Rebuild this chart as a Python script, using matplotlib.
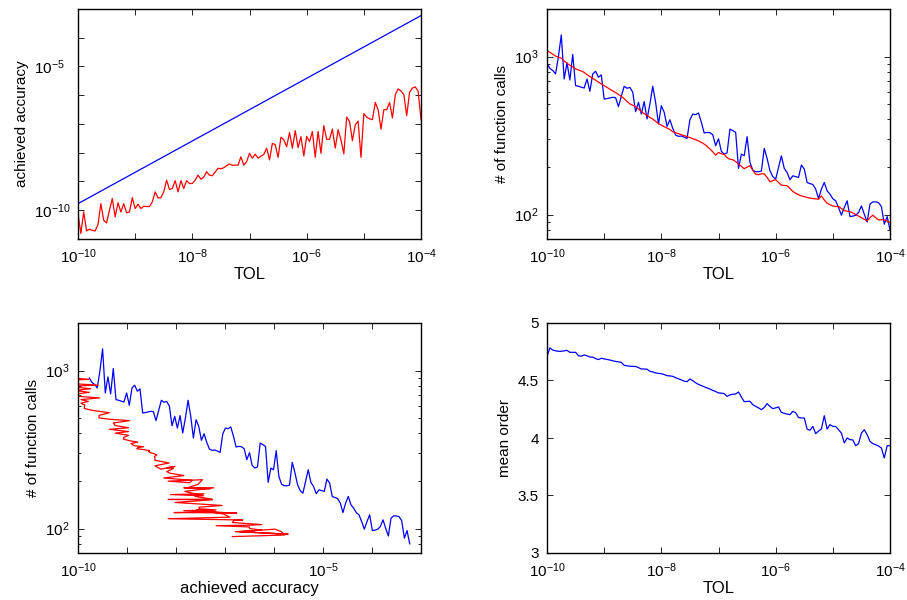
import numpy as np
import matplotlib
matplotlib.use("Agg")
import matplotlib.pyplot as plt
from matplotlib.ticker import FixedLocator, FuncFormatter, LogLocator, NullFormatter, NullLocator

plt.rcParams['font.family'] = ['Liberation Sans', 'DejaVu Sans']
plt.rcParams['mathtext.fontset'] = 'custom'
plt.rcParams['mathtext.rm'] = 'Liberation Sans'
plt.rcParams['mathtext.it'] = 'Liberation Sans:italic'
plt.rcParams['mathtext.default'] = 'rm'

# Tolerance grid (121 log-spaced samples from 1e-10 to 1e-4)
tol = np.logspace(-10, -4, 121)

# log10 of achieved accuracy, blue (straight line in the picture)
acc_blue_log = [
    -9.770, -9.716, -9.661, -9.607, -9.552, -9.498, -9.443, -9.389, -9.334, -9.280,
    -9.225, -9.171, -9.116, -9.062, -9.007, -8.953, -8.898, -8.844, -8.789, -8.735,
    -8.680, -8.626, -8.571, -8.517, -8.462, -8.408, -8.353, -8.299, -8.244, -8.190,
    -8.135, -8.081, -8.026, -7.972, -7.917, -7.863, -7.808, -7.754, -7.699, -7.645,
    -7.590, -7.536, -7.481, -7.427, -7.372, -7.318, -7.263, -7.209, -7.154, -7.100,
    -7.045, -6.991, -6.936, -6.882, -6.827, -6.773, -6.718, -6.664, -6.609, -6.555,
    -6.500, -6.446, -6.391, -6.337, -6.282, -6.228, -6.173, -6.119, -6.064, -6.010,
    -5.955, -5.901, -5.846, -5.792, -5.737, -5.683, -5.628, -5.574, -5.519, -5.465,
    -5.410, -5.356, -5.301, -5.247, -5.192, -5.138, -5.083, -5.029, -4.974, -4.920,
    -4.865, -4.811, -4.756, -4.702, -4.647, -4.593, -4.538, -4.484, -4.429, -4.375,
    -4.320, -4.266, -4.211, -4.157, -4.102, -4.048, -3.993, -3.939, -3.884, -3.830,
    -3.775, -3.721, -3.666, -3.612, -3.557, -3.503, -3.448, -3.394, -3.339, -3.285,
    -3.230]

# log10 of achieved accuracy, red (noisy)
acc_red_log = [
    -10.12, -10.81, -10.06, -10.72, -10.66, -10.70, -10.72, -10.49, -9.77, -10.35,
    -10.44, -10.00, -9.59, -10.23, -9.74, -10.06, -9.77, -10.09, -10.06, -9.56,
    -9.94, -9.79, -9.94, -9.86, -9.87, -9.87, -9.71, -9.36, -9.57, -9.57,
    -9.36, -8.95, -9.28, -9.24, -8.97, -9.36, -8.97, -9.24, -8.97, -9.07,
    -9.07, -8.95, -8.78, -8.92, -8.85, -8.66, -8.78, -8.80, -8.67, -8.54,
    -8.56, -8.52, -8.45, -8.39, -8.44, -8.43, -8.43, -8.14, -8.43, -8.31,
    -8.02, -8.19, -8.05, -8.19, -8.12, -8.06, -7.84, -8.25, -7.67, -7.72,
    -8.16, -7.46, -7.55, -7.79, -7.30, -7.84, -7.23, -7.82, -7.44, -8.11,
    -7.43, -7.61, -7.26, -8.16, -7.26, -8.02, -7.06, -7.53, -7.53, -7.18,
    -7.84, -7.20, -7.55, -8.04, -6.76, -6.91, -7.58, -7.03, -6.90, -8.16,
    -6.64, -6.76, -6.82, -6.85, -6.25, -6.50, -7.18, -6.50, -6.50, -6.25,
    -6.79, -5.98, -5.78, -5.85, -5.98, -6.71, -5.90, -5.75, -5.71, -5.86,
    -6.85]

# log10 of number of function calls, blue (noisy)
calls_blue_log = [
    2.953, 2.925, 2.912, 2.890, 3.000, 3.137, 2.858, 2.960, 2.852, 3.013,
    2.816, 2.812, 2.806, 2.801, 2.858, 2.780, 2.890, 2.907, 2.869, 2.884,
    2.731, 2.734, 2.738, 2.742, 2.740, 2.683, 2.748, 2.812, 2.799, 2.805,
    2.774, 2.651, 2.710, 2.636, 2.715, 2.605, 2.700, 2.812, 2.710, 2.573,
    2.689, 2.647, 2.558, 2.600, 2.545, 2.503, 2.495, 2.497, 2.490, 2.482,
    2.600, 2.636, 2.632, 2.643, 2.584, 2.516, 2.520, 2.518, 2.505, 2.436,
    2.480, 2.400, 2.383, 2.390, 2.541, 2.531, 2.520, 2.292, 2.383, 2.372,
    2.493, 2.330, 2.281, 2.271, 2.271, 2.275, 2.419, 2.355, 2.277, 2.240,
    2.224, 2.298, 2.372, 2.292, 2.266, 2.220, 2.245, 2.240, 2.235, 2.313,
    2.288, 2.203, 2.196, 2.190, 2.161, 2.101, 2.161, 2.203, 2.150, 2.129,
    2.100, 2.087, 2.044, 1.996, 2.044, 2.087, 1.987, 1.990, 1.995, 2.013,
    2.055, 2.002, 1.953, 2.066, 2.080, 2.080, 2.075, 2.050, 1.939, 1.987,
    1.903]

# log10 of number of function calls, red (smooth)
calls_red_log = [
    3.038, 3.027, 3.015, 3.003, 2.996, 2.989, 2.972, 2.958, 2.945, 2.935,
    2.922, 2.915, 2.908, 2.900, 2.885, 2.874, 2.862, 2.850, 2.838, 2.827,
    2.816, 2.805, 2.793, 2.782, 2.772, 2.760, 2.748, 2.733, 2.716, 2.700,
    2.692, 2.683, 2.668, 2.652, 2.638, 2.628, 2.614, 2.604, 2.590, 2.576,
    2.566, 2.556, 2.547, 2.538, 2.524, 2.518, 2.512, 2.505, 2.500, 2.493,
    2.487, 2.480, 2.474, 2.466, 2.456, 2.446, 2.432, 2.415, 2.397, 2.376,
    2.393, 2.385, 2.380, 2.360, 2.350, 2.347, 2.335, 2.320, 2.305, 2.290,
    2.300, 2.309, 2.280, 2.255, 2.252, 2.258, 2.258, 2.235, 2.207, 2.215,
    2.220, 2.203, 2.186, 2.184, 2.182, 2.165, 2.146, 2.135, 2.125, 2.118,
    2.113, 2.108, 2.104, 2.101, 2.099, 2.097, 2.118, 2.092, 2.072, 2.062,
    2.054, 2.051, 2.051, 2.038, 2.025, 2.021, 2.018, 2.010, 2.000, 1.990,
    1.980, 1.970, 1.960, 1.980, 1.996, 1.980, 1.966, 1.967, 1.966, 1.958,
    1.949]

# mean order (blue)
mean_order = [
    4.710, 4.783, 4.765, 4.758, 4.754, 4.754, 4.758, 4.762, 4.745, 4.745,
    4.745, 4.715, 4.712, 4.722, 4.715, 4.704, 4.704, 4.690, 4.682, 4.693,
    4.688, 4.683, 4.678, 4.671, 4.666, 4.662, 4.658, 4.632, 4.628, 4.624,
    4.623, 4.622, 4.612, 4.600, 4.600, 4.598, 4.580, 4.574, 4.566, 4.562,
    4.559, 4.552, 4.542, 4.540, 4.536, 4.524, 4.515, 4.505, 4.494, 4.490,
    4.513, 4.498, 4.480, 4.466, 4.456, 4.445, 4.435, 4.426, 4.414, 4.404,
    4.392, 4.390, 4.386, 4.362, 4.375, 4.380, 4.383, 4.400, 4.357, 4.316,
    4.318, 4.319, 4.290, 4.275, 4.262, 4.246, 4.265, 4.299, 4.275, 4.255,
    4.262, 4.270, 4.223, 4.215, 4.208, 4.203, 4.232, 4.220, 4.178, 4.174,
    4.174, 4.078, 4.067, 4.101, 4.038, 4.060, 4.078, 4.194, 4.078, 4.116,
    4.101, 4.100, 4.072, 4.043, 3.957, 4.000, 3.986, 3.983, 3.933, 3.951,
    4.043, 4.072, 4.029, 3.971, 3.951, 3.942, 3.930, 3.913, 3.826, 3.933,
    3.933]

acc_blue = 10.0 ** np.array(acc_blue_log)
acc_red = 10.0 ** np.array(acc_red_log)
calls_blue = 10.0 ** np.array(calls_blue_log)
calls_red = 10.0 ** np.array(calls_red_log)

BLUE = '#0000FF'
RED = '#FF0000'
LW = 0.9
FS = 11      # tick labels
FSX = 12     # x-axis labels
FSY = 11     # y-axis labels

fig = plt.figure(figsize=(9.07, 6.0), dpi=100)
W, H = 343 / 907, 230 / 600
ax1 = fig.add_axes([78 / 907, 1 - 239 / 600, W, H])
ax2 = fig.add_axes([547 / 907, 1 - 239 / 600, W, H])
ax3 = fig.add_axes([78 / 907, 1 - 553 / 600, W, H])
ax4 = fig.add_axes([547 / 907, 1 - 553 / 600, W, H])


def pow_fmt(labels):
    def f(v, pos):
        e = int(round(np.log10(v)))
        return r'$10^{%d}$' % e if e in labels else ''
    return FuncFormatter(f)


def style(ax):
    ax.tick_params(which='both', direction='in', top=True, right=True,
                   labelsize=FS, width=0.6, colors='black', pad=6)
    ax.tick_params(which='major', length=4)
    ax.tick_params(which='minor', length=2.5)
    for s in ax.spines.values():
        s.set_linewidth(1.0)
        s.set_color('black')


def tol_xaxis(ax):
    ax.set_xscale('log')
    ax.set_xlim(1e-10, 1e-4)
    ax.xaxis.set_major_locator(FixedLocator([10.0 ** e for e in range(-10, -3)]))
    ax.xaxis.set_major_formatter(pow_fmt({-10, -8, -6, -4}))
    ax.xaxis.set_minor_locator(NullLocator())
    ax.set_xlabel('TOL', fontsize=FSX, labelpad=1)


def calls_yaxis(ax):
    ax.set_yscale('log')
    ax.set_ylim(70, 2000)
    ax.yaxis.set_major_locator(FixedLocator([100, 1000]))
    ax.yaxis.set_major_formatter(pow_fmt({2, 3}))
    ax.yaxis.set_minor_locator(LogLocator(base=10, subs=np.arange(2, 10)))
    ax.yaxis.set_minor_formatter(NullFormatter())
    ax.set_ylabel('# of function calls', fontsize=FSY)


# Top-left: achieved accuracy vs TOL
ax1.plot(tol, acc_blue, color=BLUE, lw=LW)
ax1.plot(tol, acc_red, color=RED, lw=LW)
tol_xaxis(ax1)
ax1.set_yscale('log')
ax1.set_ylim(1e-11, 1e-3)
ax1.yaxis.set_major_locator(FixedLocator([10.0 ** e for e in range(-11, -2)]))
ax1.yaxis.set_major_formatter(pow_fmt({-5, -10}))
ax1.yaxis.set_minor_locator(NullLocator())
ax1.set_ylabel('achieved accuracy', fontsize=FSY, labelpad=3)
style(ax1)
ax1.tick_params(axis='y', which='major', pad=32)
for t in ax1.get_yticklabels():
    t.set_horizontalalignment('left')

# Top-right: function calls vs TOL
ax2.plot(tol, calls_blue, color=BLUE, lw=LW)
ax2.plot(tol, calls_red, color=RED, lw=LW)
tol_xaxis(ax2)
calls_yaxis(ax2)
style(ax2)

# Bottom-left: function calls vs achieved accuracy
ax3.plot(acc_blue, calls_blue, color=BLUE, lw=LW)
ax3.plot(acc_red, calls_red, color=RED, lw=LW)
ax3.set_xscale('log')
ax3.set_xlim(1e-10, 1e-3)
ax3.xaxis.set_major_locator(FixedLocator([10.0 ** e for e in range(-10, -2)]))
ax3.xaxis.set_major_formatter(pow_fmt({-10, -5}))
ax3.xaxis.set_minor_locator(NullLocator())
ax3.set_xlabel('achieved accuracy', fontsize=FSX, labelpad=1)
calls_yaxis(ax3)
style(ax3)

# Bottom-right: mean order vs TOL
ax4.plot(tol, mean_order, color=BLUE, lw=LW)
tol_xaxis(ax4)
ax4.set_ylim(3, 5)
ax4.set_yticks([3, 3.5, 4, 4.5, 5])
ax4.set_yticklabels(['3', '3.5', '4', '4.5', '5'])
ax4.set_ylabel('mean order', fontsize=FSY)
style(ax4)

fig.savefig('out.png', dpi=100, facecolor='white')
